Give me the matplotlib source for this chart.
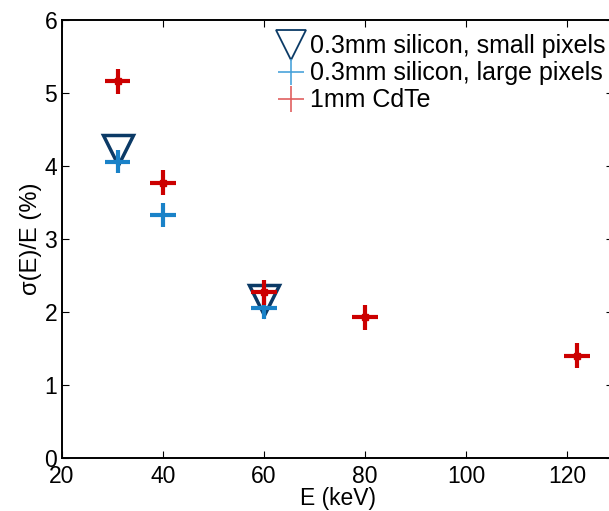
import matplotlib.pyplot as plt
from matplotlib.lines import Line2D

plt.rcParams['font.family'] = ['Liberation Sans', 'DejaVu Sans']

# energies (keV) and relative resolution sigma(E)/E (%)
E_small = [31, 60]
res_small = [4.22, 2.17]

E_large = [31, 40, 60]
res_large = [4.06, 3.33, 2.06]

E_cdte = [31, 40, 60, 80, 122]
res_cdte = [5.16, 3.77, 2.27, 1.93, 1.40]

xerr_cdte = 2.5
yerr_cdte = 0.17
xerr_large = 2.5
yerr_large = 0.16

navy = '#0b3a66'
blue = '#1a82c8'
red = '#cc0000'

fig = plt.figure(figsize=(6.09, 5.11), dpi=100)
# right edge of the box sits just outside the canvas
ax = fig.add_axes([62 / 609, 53 / 511, 551 / 609, 438 / 511])

ax.plot(E_small, res_small, linestyle='none', marker='v', ms=22, mfc='none',
        mec=navy, mew=2.5, zorder=2)
ax.errorbar(E_large, res_large, xerr=xerr_large, yerr=yerr_large, fmt='none',
            ecolor=blue, elinewidth=3, capsize=0, zorder=3)
ax.errorbar(E_cdte, res_cdte, xerr=xerr_cdte, yerr=yerr_cdte, fmt='s', ms=5,
            color=red, mec=red, ecolor=red, elinewidth=3, capsize=0, zorder=4)

ax.set_xlim(20, 20 + 551 / 5.05)
ax.set_ylim(0, 6)
ax.set_xticks([20, 40, 60, 80, 100, 120])
ax.set_yticks([0, 1, 2, 3, 4, 5, 6])
ax.tick_params(direction='in', top=True, right=True, labelsize=16.5, length=5, width=0.8)
ax.tick_params(axis='x', pad=5)
for s in ax.spines.values():
    s.set_linewidth(1.4)

ax.set_xlabel('E (keV)', fontsize=16.5, labelpad=-1)
ax.set_ylabel('σ(E)/E (%)', fontsize=17, labelpad=2)

handles = [
    Line2D([], [], linestyle='none', marker='v', ms=21, mfc='none', mec=navy, mew=1.3),
    Line2D([], [], linestyle='none', marker='+', ms=19, color='#4aa3da', mew=1.2),
    Line2D([], [], linestyle='none', marker='+', ms=19, color='#e06060', mew=1.2),
]
labels = ['0.3mm silicon, small pixels', '0.3mm silicon, large pixels', '1mm CdTe']
ax.legend(handles, labels, loc='upper left', frameon=False, fontsize=18,
          handlelength=1.0, handletextpad=0.25, labelspacing=0.12,
          borderaxespad=0.0, bbox_to_anchor=(0.375, 0.99))

fig.savefig('out.png', dpi=100)
